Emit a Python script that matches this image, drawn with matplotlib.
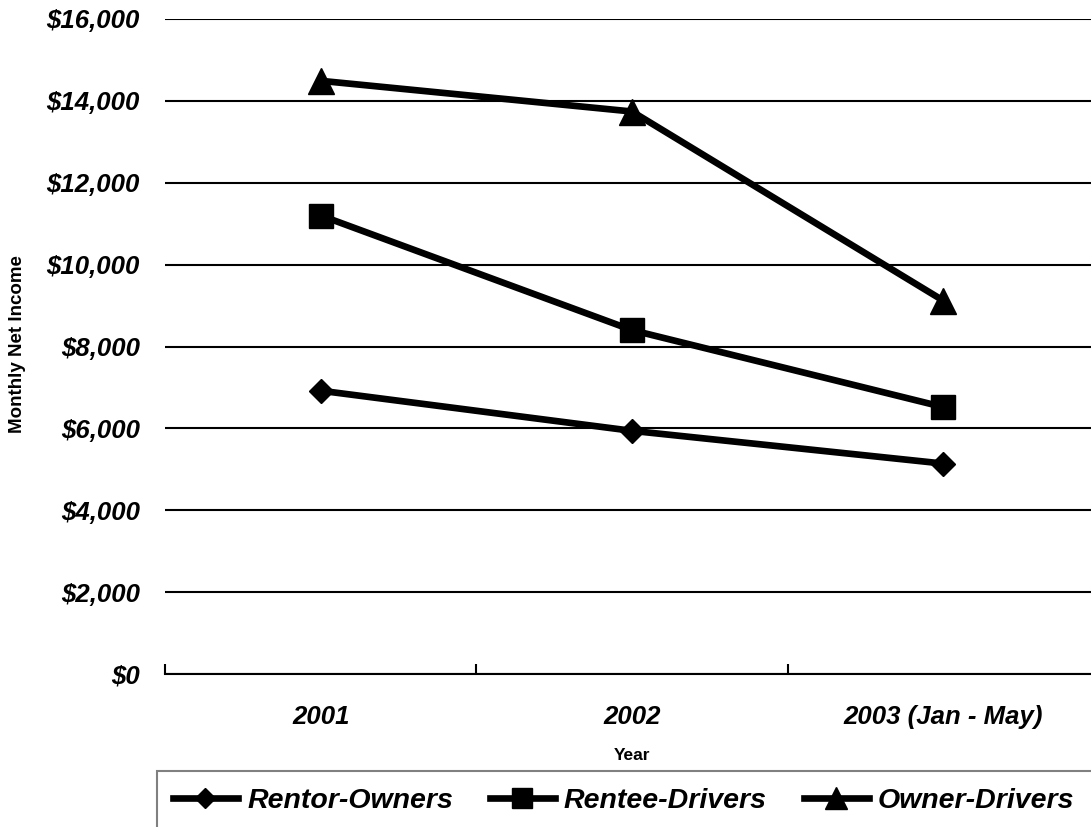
import matplotlib
matplotlib.use("Agg")
import matplotlib.pyplot as plt
from matplotlib.patches import Rectangle
from matplotlib.ticker import FuncFormatter, FixedLocator

plt.rcParams['font.family'] = ['Liberation Sans', 'DejaVu Sans']

years = ['2001', '2002', '2003 (Jan - May)']
rentor_owners = [6920, 5940, 5140]
rentee_drivers = [11200, 8400, 6520]
owner_drivers = [14490, 13740, 9120]

W, H = 1091, 827
fig = plt.figure(figsize=(W / 100, H / 100), dpi=100)
ax = fig.add_axes([165 / W, 1 - 674 / H, (1099 - 165) / W, (674 - 19) / H])

x = list(range(len(years)))
lw = 4.8
ax.plot(x, rentor_owners, color='black', lw=lw, marker='D', ms=12.5, label='Rentor-Owners', zorder=3)
ax.plot(x, rentee_drivers, color='black', lw=lw, marker='s', ms=17, label='Rentee-Drivers', zorder=3)
ax.plot(x, owner_drivers, color='black', lw=lw, marker='^', ms=19, label='Owner-Drivers', zorder=3)

ax.set_xlim(-0.5, 2.5)
ax.set_ylim(0, 16000)

# gridlines / axis
ax.yaxis.set_major_locator(FixedLocator(range(0, 16001, 2000)))
ax.yaxis.set_major_formatter(FuncFormatter(lambda v, p: f'${v:,.0f}'))
ax.grid(axis='y', color='black', lw=1.5)
ax.set_axisbelow(True)
for s in ['top', 'right', 'left']:
    ax.spines[s].set_visible(False)
ax.spines['bottom'].set_linewidth(1.5)

ax.set_xticks(x)
ax.set_xticklabels(years)
ax.set_xticks([-0.5, 0.5, 1.5, 2.5], minor=True)
ax.tick_params(axis='x', which='major', length=0, pad=22)
ax.tick_params(axis='x', which='minor', direction='in', length=7, width=1.5)
ax.tick_params(axis='y', length=0, pad=18)
for lab in ax.get_xticklabels() + ax.get_yticklabels():
    lab.set_fontsize(18.5)
    lab.set_fontweight('bold')
    lab.set_fontstyle('italic')

fig.text(18 / W, 1 - 344 / H, 'Monthly Net Income', rotation=90, ha='center', va='center',
         fontsize=13.5, fontweight='bold')
fig.text(632 / W, 1 - 755 / H, 'Year', ha='center', va='center', fontsize=12.5, fontweight='bold')

# legend box running off the page like the original
fig.patches.append(Rectangle((157 / W, -0.02), 1.0, 1 - 771 / H + 0.02, transform=fig.transFigure,
                             facecolor='white', edgecolor='#808080', lw=1.5))
leg = fig.legend(loc='center left', bbox_to_anchor=(173 / W, 1 - 801 / H), ncol=3, frameon=False,
                 prop={'size': 20.5, 'weight': 'bold', 'style': 'italic'}, handlelength=2.28,
                 handletextpad=0.32, columnspacing=1.3, markerscale=0.85, borderaxespad=0,
                 borderpad=0)

fig.savefig('out.png', dpi=100)
